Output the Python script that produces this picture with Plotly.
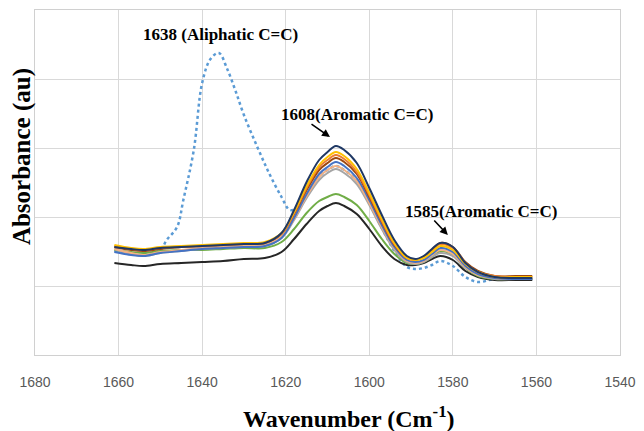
import plotly.graph_objects as go

# Wavenumber grid (cm-1) for the solid spectra
wavenumber = [1661, 1657, 1654, 1650, 1645, 1640, 1635, 1630, 1625, 1621, 1618, 1615, 1612, 1610, 1608,
              1606, 1603, 1600, 1597, 1594, 1591, 1589, 1587, 1585, 1583, 1580, 1577, 1574, 1570, 1565, 1561]

navy = [108, 106, 105, 107, 108, 109, 110, 111, 112, 122, 145, 173, 195, 203, 209,
        205, 192, 167, 140, 115, 99, 96, 99, 106, 112, 108, 92, 83, 78, 77, 77]
gold = [110, 107, 106, 108, 109, 110, 111, 112, 113, 122, 143, 169, 190, 198, 203,
        199, 186, 162, 136, 112, 97, 95, 97, 103, 109, 105, 91, 83, 78, 78, 78]
orange = [109, 106, 105, 107, 108, 109, 110, 111, 112, 121, 142, 167, 188, 195, 200,
          196, 183, 160, 134, 111, 97, 95, 98, 105, 111, 107, 92, 83, 79, 78, 78]
brown = [108, 105, 104, 106, 108, 109, 110, 111, 112, 121, 141, 165, 185, 192, 197,
         193, 181, 158, 133, 110, 97, 95, 98, 105, 112, 108, 93, 84, 79, 79, 79]
blue = [103, 100, 99, 102, 104, 106, 107, 108, 109, 117, 137, 161, 181, 188, 193,
        189, 177, 155, 130, 108, 95, 93, 95, 101, 107, 103, 89, 81, 77, 76, 76]
salmon = [106, 102, 100, 103, 105, 107, 108, 109, 110, 118, 136, 159, 178, 185, 189,
          185, 174, 152, 128, 107, 94, 92, 94, 100, 105, 101, 88, 80, 77, 76, 76]
gray = [106, 101, 99, 102, 104, 106, 107, 108, 109, 117, 135, 157, 175, 182, 186,
        182, 171, 150, 126, 105, 93, 91, 93, 98, 102, 99, 87, 80, 76, 76, 76]
green = [105, 103, 102, 104, 105, 105, 106, 107, 107, 113, 126, 142, 154, 158, 161,
         158, 150, 134, 116, 101, 92, 91, 93, 98, 104, 100, 87, 79, 76, 76, 76]
black = [92, 90, 89, 91, 92, 93, 94, 96, 97, 103, 116, 131, 144, 149, 152,
         149, 141, 126, 109, 96, 90, 90, 92, 96, 99, 95, 84, 78, 75, 75, 75]

# Uncured sample (dotted) with the aliphatic C=C band
dashed_wn = [1661, 1657, 1654, 1650, 1648.5, 1646, 1644.5, 1642, 1640, 1638, 1636, 1634, 1632, 1630,
             1627, 1624, 1621, 1619, 1617, 1615, 1612, 1610, 1608, 1606, 1603, 1600, 1597, 1594,
             1591, 1589, 1587, 1585, 1583, 1580, 1577, 1574, 1570, 1565, 1561]
dashed = [104, 101, 100, 105, 115, 128, 155, 205, 272, 296, 302, 286, 264, 240,
          210, 182, 158, 145, 148, 160, 178, 185, 189, 185, 174, 152, 127, 104,
          88, 86, 87, 90, 94, 89, 78, 73, 76, 76, 76]

x_ticks = [1680, 1660, 1640, 1620, 1600, 1580, 1560, 1540]

fig = go.Figure()

fig.add_trace(go.Scatter(x=dashed_wn, y=dashed, mode="lines", line=dict(color="#5B9BD5", width=2.5, dash="dot", shape="spline")))
series = [
    (black, "#262626"),
    (green, "#70AD47"),
    (gray, "#A5A5A5"),
    (salmon, "#F4B183"),
    (blue, "#4472C4"),
    (brown, "#9E480E"),
    (orange, "#ED7D31"),
    (gold, "#FFC000"),
    (navy, "#1F3864"),
]
for vals, col in series:
    fig.add_trace(go.Scatter(x=wavenumber, y=vals, mode="lines",
                             line=dict(color=col, width=2, shape="spline")))

serif = "Liberation Serif, Times New Roman, serif"
ann_font = dict(family=serif, size=17, color="black")

annotations = [
    dict(x=1635.7, y=321, text="<b>1638 (Aliphatic C=C)</b>", showarrow=False, font=ann_font),
    dict(x=1603, y=241, text="<b>1608(Aromatic C=C)</b>", showarrow=False, font=ann_font),
    dict(x=1573.3, y=144, text="<b>1585(Aromatic C=C)</b>", showarrow=False, font=ann_font),
    dict(x=1609.4, y=218, text="", showarrow=True, ax=-20, ay=-14, arrowhead=2,
         arrowsize=1, arrowwidth=1.6, arrowcolor="black"),
    dict(x=1581.2, y=120, text="", showarrow=True, ax=-15, ay=-16, arrowhead=2,
         arrowsize=1, arrowwidth=1.6, arrowcolor="black"),
    dict(xref="paper", yref="paper", x=-0.022, y=0.574, xanchor="center", yanchor="middle",
         text="<b>Absorbance (au)</b>", textangle=-90, showarrow=False,
         font=dict(family=serif, size=25, color="black")),
    dict(xref="paper", yref="paper", x=0.536, y=-0.18, xanchor="center", yanchor="middle",
         text="<b>Wavenumber (Cm<sup>-1</sup>)</b>", showarrow=False,
         font=dict(family=serif, size=24, color="black")),
]

fig.update_layout(
    width=636, height=423,
    margin=dict(l=27, r=24, t=2, b=76),
    paper_bgcolor="white", plot_bgcolor="white",
    showlegend=False,
    annotations=annotations,
    xaxis=dict(range=[1680, 1540], tickvals=x_ticks, ticktext=[str(v) for v in x_ticks],
               showgrid=True, gridcolor="#D9D9D9", gridwidth=1,
               showline=True, linecolor="#D0D0D0", mirror=True, zeroline=False,
               ticks="outside", ticklen=14, tickcolor="rgba(0,0,0,0)",
               tickfont=dict(family="Liberation Sans, Arial", size=14, color="#595959")),
    yaxis=dict(range=[0, 345], tick0=0, dtick=69, showticklabels=False,
               showgrid=True, gridcolor="#D9D9D9", gridwidth=1,
               showline=True, linecolor="#D0D0D0", mirror=True, zeroline=False),
)

fig.write_html("out.html")
